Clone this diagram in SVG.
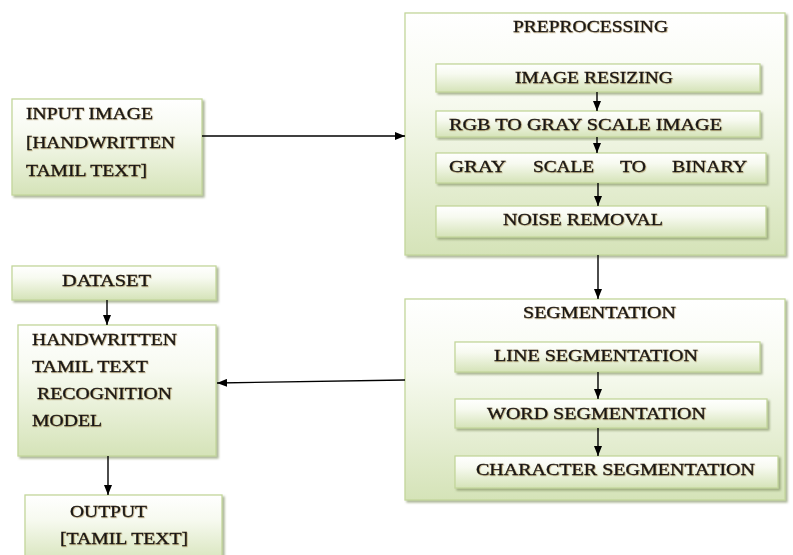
<svg xmlns="http://www.w3.org/2000/svg" width="793" height="555" viewBox="0 0 793 555">
<style>
.box{fill:url(#g);stroke:#c3d69b;stroke-width:1.3;filter:url(#sh);}
.t{font-family:"Liberation Serif","Times New Roman",serif;font-size:16px;fill:#151515;stroke:#151515;stroke-width:0.35;filter:url(#ts);}
.c{stroke:#000;stroke-width:1.4;fill:none;marker-end:url(#ah);}
</style>
<defs>
<linearGradient id="g" x1="0" y1="0" x2="0" y2="1">
<stop offset="0" stop-color="#ffffff"/>
<stop offset="0.35" stop-color="#f7faf0"/>
<stop offset="1" stop-color="#d5e3b8"/>
</linearGradient>
<filter id="sh" x="-5%" y="-5%" width="115%" height="120%">
<feDropShadow dx="2" dy="2" stdDeviation="0.8" flood-color="#7d8c5c" flood-opacity="0.65"/>
</filter>
<filter id="ts" x="-5%" y="-20%" width="110%" height="150%">
<feDropShadow dx="0.7" dy="0.7" stdDeviation="0.4" flood-color="#8a6a2a" flood-opacity="0.55"/>
</filter>
<marker id="ah" markerUnits="userSpaceOnUse" markerWidth="10" markerHeight="8" refX="10" refY="4" orient="auto">
<path d="M0,0 L10,4 L0,8 z" fill="#000"/>
</marker>
</defs>

<g id="preprocessing">
<rect class="box" x="405" y="13" width="380" height="242"/>
<text class="t" x="513" y="32" textLength="155" lengthAdjust="spacingAndGlyphs">PREPROCESSING</text>
</g>
<g id="image-resizing">
<rect class="box" x="436" y="64" width="324" height="28"/>
<text class="t" x="515" y="83" textLength="158" lengthAdjust="spacingAndGlyphs">IMAGE RESIZING</text>
</g>
<g id="rgb-to-gray">
<rect class="box" x="436" y="111" width="324" height="26"/>
<text class="t" x="449" y="130" textLength="273" lengthAdjust="spacingAndGlyphs">RGB TO GRAY SCALE IMAGE</text>
</g>
<g id="gray-to-binary">
<rect class="box" x="436" y="153" width="330" height="30"/>
<text class="t" y="172"><tspan x="449" textLength="57" lengthAdjust="spacingAndGlyphs">GRAY</tspan></text>
<text class="t" y="172"><tspan x="533" textLength="61" lengthAdjust="spacingAndGlyphs">SCALE</tspan></text>
<text class="t" y="172"><tspan x="620" textLength="26" lengthAdjust="spacingAndGlyphs">TO</tspan></text>
<text class="t" y="172"><tspan x="672" textLength="75" lengthAdjust="spacingAndGlyphs">BINARY</tspan></text>
</g>
<g id="noise-removal">
<rect class="box" x="436" y="206" width="330" height="31"/>
<text class="t" x="503" y="225" textLength="160" lengthAdjust="spacingAndGlyphs">NOISE REMOVAL</text>
</g>

<g id="input-image">
<rect class="box" x="12" y="99" width="190" height="96"/>
<text class="t" x="26" y="119" textLength="127" lengthAdjust="spacingAndGlyphs">INPUT IMAGE</text>
<text class="t" x="26" y="148" textLength="149" lengthAdjust="spacingAndGlyphs">[HANDWRITTEN</text>
<text class="t" x="26" y="176" textLength="121" lengthAdjust="spacingAndGlyphs">TAMIL TEXT]</text>
</g>

<g id="dataset">
<rect class="box" x="12" y="266" width="204" height="34"/>
<text class="t" x="62" y="286" textLength="89" lengthAdjust="spacingAndGlyphs">DATASET</text>
</g>

<g id="model">
<rect class="box" x="18" y="325" width="198" height="131"/>
<text class="t" x="32" y="345" textLength="145" lengthAdjust="spacingAndGlyphs">HANDWRITTEN</text>
<text class="t" x="32" y="372" textLength="116" lengthAdjust="spacingAndGlyphs">TAMIL TEXT</text>
<text class="t" x="37" y="399" textLength="135" lengthAdjust="spacingAndGlyphs">RECOGNITION</text>
<text class="t" x="32" y="426" textLength="70" lengthAdjust="spacingAndGlyphs">MODEL</text>
</g>

<g id="output">
<rect class="box" x="25" y="495" width="197" height="70"/>
<text class="t" x="70" y="517" textLength="77" lengthAdjust="spacingAndGlyphs">OUTPUT</text>
<text class="t" x="60" y="544" textLength="128" lengthAdjust="spacingAndGlyphs">[TAMIL TEXT]</text>
</g>

<g id="segmentation">
<rect class="box" x="405" y="299" width="380" height="201"/>
<text class="t" x="523" y="318" textLength="153" lengthAdjust="spacingAndGlyphs">SEGMENTATION</text>
</g>
<g id="line-segmentation">
<rect class="box" x="455" y="342" width="305" height="30"/>
<text class="t" x="494" y="361" textLength="204" lengthAdjust="spacingAndGlyphs">LINE SEGMENTATION</text>
</g>
<g id="word-segmentation">
<rect class="box" x="455" y="399" width="312" height="29"/>
<text class="t" x="487" y="419" textLength="219" lengthAdjust="spacingAndGlyphs">WORD SEGMENTATION</text>
</g>
<g id="character-segmentation">
<rect class="box" x="455" y="456" width="323" height="32"/>
<text class="t" x="476" y="475" textLength="279" lengthAdjust="spacingAndGlyphs">CHARACTER SEGMENTATION</text>
</g>

<g id="connectors">
<line class="c" x1="202" y1="136" x2="405" y2="136"/>
<line class="c" x1="597" y1="92" x2="597" y2="111"/>
<line class="c" x1="597" y1="137" x2="597" y2="153"/>
<line class="c" x1="598" y1="183" x2="598" y2="206"/>
<line class="c" x1="598" y1="255" x2="598" y2="299"/>
<line class="c" x1="598" y1="372" x2="598" y2="399"/>
<line class="c" x1="598" y1="428" x2="598" y2="456"/>
<line class="c" x1="405" y1="380" x2="217" y2="383"/>
<line class="c" x1="107" y1="300" x2="107" y2="325"/>
<line class="c" x1="108" y1="456" x2="108" y2="495"/>
</g>
</svg>
